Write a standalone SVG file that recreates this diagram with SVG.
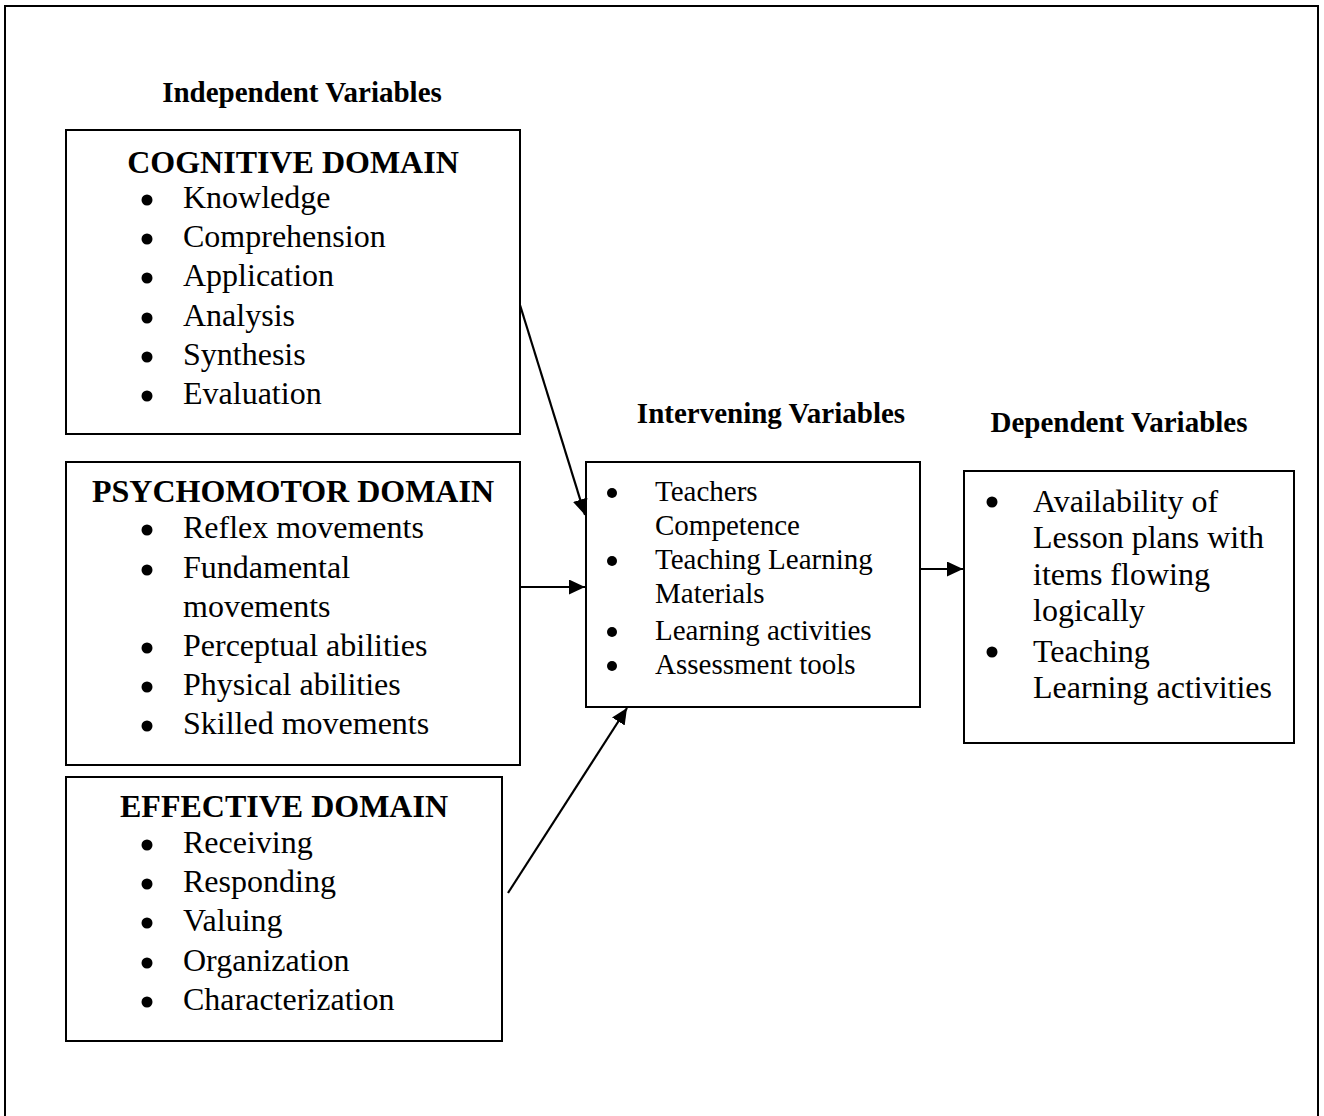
<svg xmlns="http://www.w3.org/2000/svg" width="1324" height="1116" viewBox="0 0 1324 1116">
<style>
  .box { fill: #fff; stroke: #000; stroke-width: 2; }
  .frame { fill: none; stroke: #000; stroke-width: 2; }
  .t { font-family: "Liberation Serif", "Times New Roman", serif; fill: #000; }
  .title { font-size: 29px; font-weight: bold; text-anchor: middle; }
  .head { font-size: 32px; font-weight: bold; text-anchor: middle; }
  .item { font-size: 32px; }
  .item2 { font-size: 29px; }
  .dot { fill: #000; }
  .conn { stroke: #000; stroke-width: 2.2; fill: none; }
</style>
<defs>
  <marker id="ah" markerUnits="userSpaceOnUse" markerWidth="17" markerHeight="15" refX="16" refY="7.5" orient="auto">
    <path d="M0,0 L16,7.5 L0,15 z" fill="#000"/>
  </marker>
</defs>
<rect width="1324" height="1116" fill="#fff"/>
<path class="frame" d="M5,1120 V6 H1318 V1120"/>

<g id="title-independent">
  <text class="t title" x="302" y="102">Independent Variables</text>
</g>
<g id="title-intervening">
  <text class="t title" x="771" y="423">Intervening Variables</text>
</g>
<g id="title-dependent">
  <text class="t title" x="1119" y="432">Dependent Variables</text>
</g>

<g id="cognitive">
  <rect class="box" x="66" y="130" width="454" height="304"/>
  <text class="t head" x="293" y="173">COGNITIVE DOMAIN</text>
  <g class="dot">
    <circle cx="147" cy="200" r="5.5"/><circle cx="147" cy="239" r="5.5"/><circle cx="147" cy="278" r="5.5"/>
    <circle cx="147" cy="318" r="5.5"/><circle cx="147" cy="357" r="5.5"/><circle cx="147" cy="396" r="5.5"/>
  </g>
  <g class="t item">
    <text x="183" y="208">Knowledge</text>
    <text x="183" y="247">Comprehension</text>
    <text x="183" y="286">Application</text>
    <text x="183" y="326">Analysis</text>
    <text x="183" y="365">Synthesis</text>
    <text x="183" y="404">Evaluation</text>
  </g>
</g>

<g id="psychomotor">
  <rect class="box" x="66" y="462" width="454" height="303"/>
  <text class="t head" x="293" y="502">PSYCHOMOTOR DOMAIN</text>
  <g class="dot">
    <circle cx="147" cy="530" r="5.5"/><circle cx="147" cy="570" r="5.5"/><circle cx="147" cy="648" r="5.5"/>
    <circle cx="147" cy="687" r="5.5"/><circle cx="147" cy="726" r="5.5"/>
  </g>
  <g class="t item">
    <text x="183" y="538">Reflex movements</text>
    <text x="183" y="578">Fundamental</text>
    <text x="183" y="617">movements</text>
    <text x="183" y="656">Perceptual abilities</text>
    <text x="183" y="695">Physical abilities</text>
    <text x="183" y="734">Skilled movements</text>
  </g>
</g>

<g id="effective">
  <rect class="box" x="66" y="777" width="436" height="264"/>
  <text class="t head" x="284" y="817">EFFECTIVE DOMAIN</text>
  <g class="dot">
    <circle cx="147" cy="845" r="5.5"/><circle cx="147" cy="884" r="5.5"/><circle cx="147" cy="923" r="5.5"/>
    <circle cx="147" cy="963" r="5.5"/><circle cx="147" cy="1002" r="5.5"/>
  </g>
  <g class="t item">
    <text x="183" y="853">Receiving</text>
    <text x="183" y="892">Responding</text>
    <text x="183" y="931">Valuing</text>
    <text x="183" y="971">Organization</text>
    <text x="183" y="1010">Characterization</text>
  </g>
</g>

<g id="intervening">
  <rect class="box" x="586" y="462" width="334" height="245"/>
  <g class="dot">
    <circle cx="612" cy="493" r="5"/><circle cx="612" cy="561" r="5"/>
    <circle cx="612" cy="632" r="5"/><circle cx="612" cy="666" r="5"/>
  </g>
  <g class="t item2">
    <text x="655" y="501">Teachers</text>
    <text x="655" y="535">Competence</text>
    <text x="655" y="569">Teaching Learning</text>
    <text x="655" y="603">Materials</text>
    <text x="655" y="640">Learning activities</text>
    <text x="655" y="674">Assessment tools</text>
  </g>
</g>

<g id="dependent">
  <rect class="box" x="964" y="471" width="330" height="272"/>
  <g class="dot">
    <circle cx="992" cy="502" r="5.5"/><circle cx="992" cy="652" r="5.5"/>
  </g>
  <g class="t item">
    <text x="1033" y="512">Availability of</text>
    <text x="1033" y="548">Lesson plans with</text>
    <text x="1033" y="585">items flowing</text>
    <text x="1033" y="621">logically</text>
    <text x="1033" y="662">Teaching</text>
    <text x="1033" y="698">Learning activities</text>
  </g>
</g>

<g id="connectors">
  <line class="conn" x1="520" y1="305" x2="585" y2="515" marker-end="url(#ah)"/>
  <line class="conn" x1="520" y1="587" x2="585" y2="587" marker-end="url(#ah)"/>
  <line class="conn" x1="919" y1="569" x2="963" y2="569" marker-end="url(#ah)"/>
  <line class="conn" x1="508" y1="893" x2="627" y2="708" marker-end="url(#ah)"/>
</g>
</svg>
